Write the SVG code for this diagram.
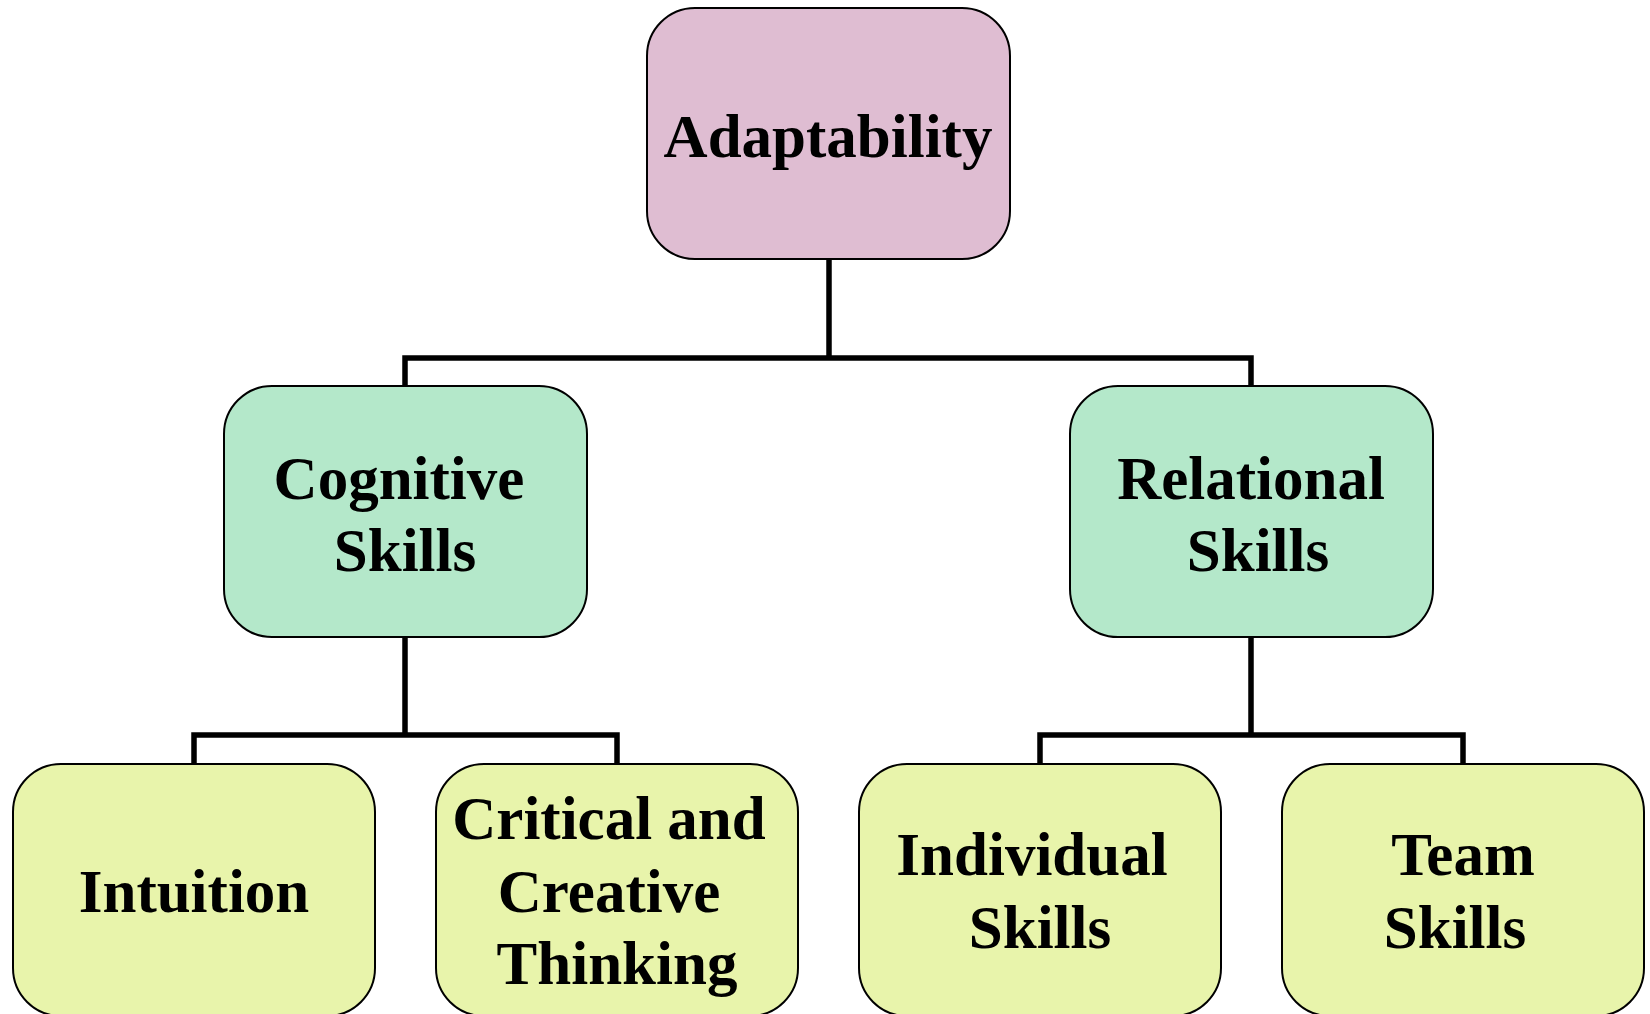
<svg xmlns="http://www.w3.org/2000/svg" width="1650" height="1014" viewBox="0 0 1650 1014">
<style>
.box{stroke:#000;stroke-width:2}
.l1{fill:#DFBDD2}
.l2{fill:#B4E8CA}
.l3{fill:#E8F4AB}
text{font-family:"Liberation Serif","Times New Roman",serif;font-weight:bold;font-size:61px;fill:#000;text-anchor:middle}
.conn{fill:none;stroke:#000;stroke-width:5.5}
</style>
<rect width="1650" height="1014" fill="#fff"/>
<g id="connectors">
<path class="conn" d="M829 258 V358 M405 386 V358 H1251 V386"/>
<path class="conn" d="M405 637 V735 M194 764 V735 H617 V764"/>
<path class="conn" d="M1251 637 V735 M1040 764 V735 H1463 V764"/>
</g>
<g id="adaptability">
<rect class="box l1" x="647" y="8" width="363" height="251" rx="48"/>
<text x="828" y="157">Adaptability</text>
</g>
<g id="cognitive">
<rect class="box l2" x="224" y="386" width="363" height="251" rx="48"/>
<text x="399" y="499">Cognitive</text>
<text x="405" y="571">Skills</text>
</g>
<g id="relational">
<rect class="box l2" x="1070" y="386" width="363" height="251" rx="48"/>
<text x="1251" y="499">Relational</text>
<text x="1258" y="571">Skills</text>
</g>
<g id="intuition">
<rect class="box l3" x="13" y="764" width="362" height="252" rx="48"/>
<text x="194" y="912">Intuition</text>
</g>
<g id="critical">
<rect class="box l3" x="436" y="764" width="362" height="252" rx="48"/>
<text x="609" y="839">Critical and</text>
<text x="609" y="912">Creative</text>
<text x="617" y="984">Thinking</text>
</g>
<g id="individual">
<rect class="box l3" x="859" y="764" width="362" height="252" rx="48"/>
<text x="1032" y="875">Individual</text>
<text x="1040" y="948">Skills</text>
</g>
<g id="team">
<rect class="box l3" x="1282" y="764" width="362" height="252" rx="48"/>
<text x="1463" y="875">Team</text>
<text x="1455" y="948">Skills</text>
</g>
</svg>
